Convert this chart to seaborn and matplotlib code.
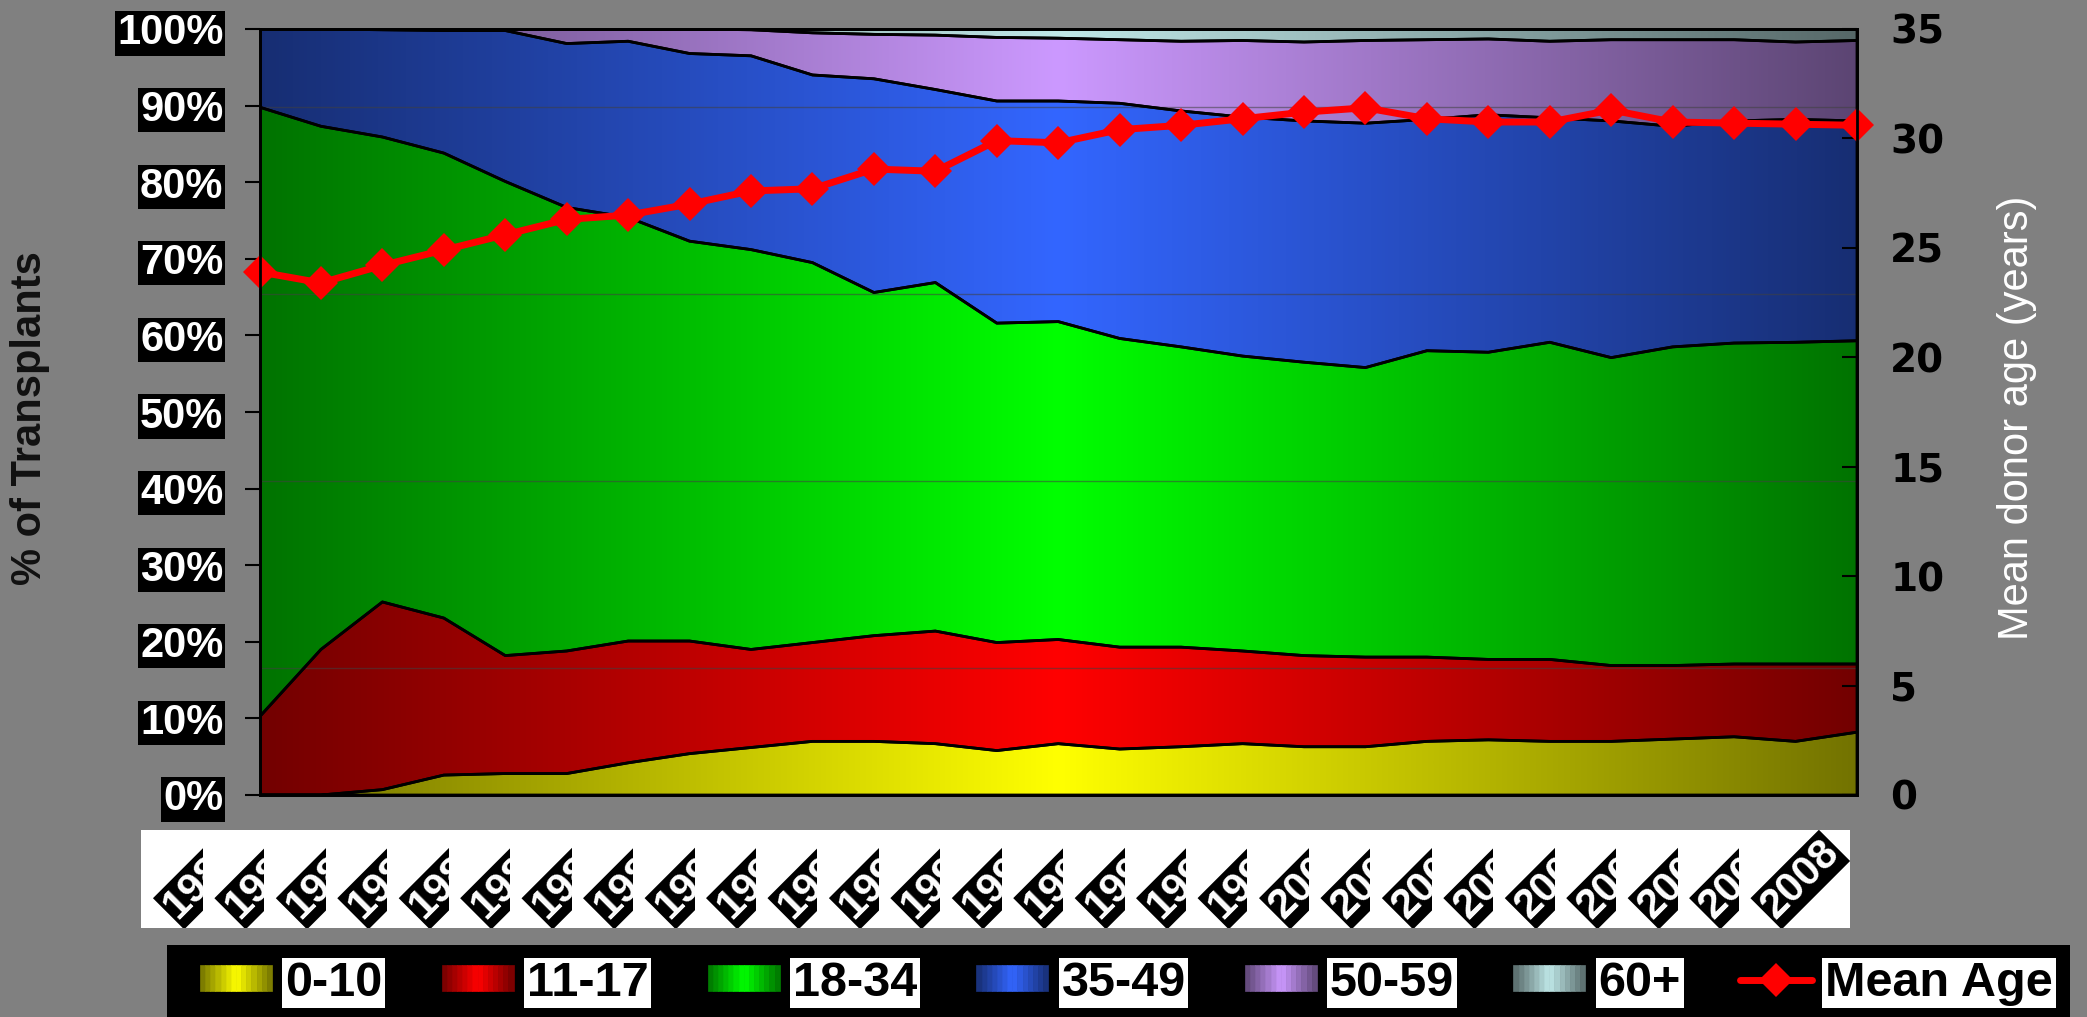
import numpy as np
import pandas as pd
import seaborn as sns
import matplotlib
matplotlib.use("Agg")
import matplotlib.pyplot as plt
import matplotlib.colors as mcolors
from matplotlib.patches import Rectangle, Patch
from matplotlib.lines import Line2D
from matplotlib.legend_handler import HandlerBase
from matplotlib.transforms import Bbox, TransformedBbox, blended_transform_factory

# Data (percent of transplants per donor age group)
YEARS = list(range(1982, 2009))
AGE_0_10 = [0.0, 0.0, 0.7, 2.6, 2.8, 2.8, 4.2, 5.4, 6.2, 7.0, 7.0, 6.7, 5.8, 6.7,
            6.0, 6.3, 6.7, 6.3, 6.3, 7.0, 7.2, 7.0, 7.0, 7.3, 7.6, 7.0, 8.2]
AGE_11_17 = [10.2, 19.0, 24.5, 20.5, 15.4, 16.0, 15.9, 14.7, 12.8, 12.9, 13.8, 14.7, 14.1, 13.6,
             13.3, 13.0, 12.1, 11.9, 11.7, 11.0, 10.5, 10.7, 9.9, 9.6, 9.5, 10.1, 8.9]
AGE_18_34 = [79.6, 68.3, 60.7, 60.7, 61.9, 57.9, 55.3, 52.2, 52.2, 49.6, 44.8, 45.5, 41.7, 41.5,
             40.3, 39.2, 38.5, 38.3, 37.8, 40.0, 40.1, 41.4, 40.2, 41.6, 41.9, 42.0, 42.2]
AGE_35_49 = [10.2, 12.7, 14.0, 16.0, 19.7, 21.4, 23.0, 24.5, 25.3, 24.5, 27.9, 25.2, 29.0, 28.8,
             30.7, 30.8, 31.2, 31.5, 31.9, 30.2, 31.0, 29.3, 30.9, 28.8, 29.0, 29.1, 28.7]
AGE_50_59 = [0.0, 0.0, 0.1, 0.2, 0.2, 1.9, 1.6, 3.2, 3.4, 5.5, 5.8, 7.1, 8.3, 8.2,
             8.3, 9.1, 10.0, 10.3, 10.8, 10.4, 9.9, 10.0, 10.6, 11.3, 10.6, 10.1, 10.5]
AGE_60_PLUS = [0.0, 0.0, 0.0, 0.0, 0.0, 0.0, 0.0, 0.0, 0.1, 0.5, 0.7, 0.8, 1.1, 1.2,
               1.4, 1.6, 1.5, 1.7, 1.5, 1.4, 1.3, 1.6, 1.4, 1.4, 1.4, 1.7, 1.5]
MEAN_AGE = [23.9, 23.4, 24.2, 24.9, 25.6, 26.3, 26.5, 27.0, 27.6, 27.7, 28.6, 28.5, 29.9, 29.8,
            30.4, 30.6, 30.9, 31.2, 31.4, 30.9, 30.75, 30.75, 31.3, 30.75, 30.7, 30.65, 30.6]

GROUPS = ["0-10", "11-17", "18-34", "35-49", "50-59", "60+"]
COLORS = ["#ffff00", "#ff0000", "#00ff00", "#3366ff", "#cc99ff", "#c0e8e8"]
PCT_TICKS = list(range(0, 101, 10))
AGE_TICKS = list(range(0, 36, 5))
GRID_PCT = [89.8, 65.4, 41.0, 16.6]

W, H = 2087, 1017


def shade(color, t):
    """Excel-like centre gradient: dark at both edges, bright in the middle."""
    bright = np.array(mcolors.to_rgb(color))
    f = 1 - abs(t - 0.5) * 2
    return np.clip(bright * (0.45 + 0.55 * f), 0, 1)


class GradientHandler(HandlerBase):
    def __init__(self, color, n=14):
        super().__init__()
        self.color = color
        self.n = n

    def create_artists(self, legend, orig_handle, xdescent, ydescent,
                       width, height, fontsize, trans):
        arts = []
        for k in range(self.n):
            c = shade(self.color, (k + 0.5) / self.n)
            arts.append(Rectangle((-xdescent + width * k / self.n, -ydescent),
                                  width / self.n, height, facecolor=c,
                                  edgecolor=c, linewidth=0.5, transform=trans))
        return arts


sns.set_style("white")
plt.rcParams["font.family"] = ["Liberation Sans", "DejaVu Sans"]

shares = pd.DataFrame({
    "0-10": AGE_0_10, "11-17": AGE_11_17, "18-34": AGE_18_34,
    "35-49": AGE_35_49, "50-59": AGE_50_59, "60+": AGE_60_PLUS,
}, index=YEARS)
cum = shares.cumsum(axis=1)

fig = plt.figure(figsize=(W / 100, H / 100), dpi=100, facecolor="#808080")
ax = fig.add_axes([259.5 / W, 222 / H, 1597.5 / W, 766 / H])
ax.set_facecolor("#808080")

# Stacked areas with horizontal gradients
t = np.linspace(0, 1, 256)
lower = np.zeros(len(YEARS))
for name, color in zip(GROUPS, COLORS):
    upper = cum[name].to_numpy()
    poly = ax.fill_between(YEARS, lower, upper, facecolor="none",
                           edgecolor="black", linewidth=2, zorder=3)
    grad = np.array([shade(color, v) for v in t])[None, :, :]
    im = ax.imshow(grad, extent=[YEARS[0], YEARS[-1], 0, 100], aspect="auto",
                   interpolation="bilinear", zorder=1)
    im.set_clip_path(poly.get_paths()[0], transform=ax.transData)
    lower = upper

for g in GRID_PCT:
    ax.axhline(g, color="#404040", linewidth=1, alpha=0.55, zorder=2)

ax.set_xlim(YEARS[0], YEARS[-1])
ax.set_ylim(0, 100)
ax.set_xticks(YEARS)
ax.tick_params(axis="x", direction="out", length=10, width=1.5, color="black",
               labelbottom=False)
ax.set_yticks(PCT_TICKS, [f"{v}%" for v in PCT_TICKS])
ax.tick_params(axis="y", direction="out", length=11, width=1.5, color="black",
               pad=15, labelsize=30, labelcolor="white")
for lab in ax.get_yticklabels():
    lab.set_fontweight("bold")
    lab.set_bbox(dict(facecolor="black", edgecolor="none", pad=1.5))
for s in ax.spines.values():
    s.set_color("black")
    s.set_linewidth(2)
ax.set_ylabel("% of Transplants", color="#111111", fontsize=30,
              fontweight="bold", va="center")
ax.yaxis.set_label_coords(-0.1437, 0.492)

# Mean donor age on the secondary axis
ax2 = ax.twinx()
sns.lineplot(x=YEARS, y=MEAN_AGE, ax=ax2, color="#ff0000", linewidth=5,
             marker="D", markersize=17, markeredgewidth=0, legend=False)
for line in ax2.lines:
    line.set_clip_on(False)
ax2.set_ylim(0, 35)
ax2.set_yticks(AGE_TICKS)
ax2.tick_params(axis="y", direction="in", length=11, width=1.5, color="black",
                pad=24, labelsize=28, labelcolor="black")
for lab in ax2.get_yticklabels():
    lab.set_fontweight("bold")
    lab.set_fontfamily("DejaVu Sans")
for s in ax2.spines.values():
    s.set_color("black")
    s.set_linewidth(2)
ax2.set_ylabel("Mean donor age (years)", color="white", fontsize=30,
               rotation=90, va="center")
ax2.yaxis.set_label_coords(1.1002, 0.492)

# Year labels: white strip, black rotated boxes, each clipped to its slot
fig.add_artist(Rectangle((141 / W, 89 / H), 1709 / W, 98 / H,
                         transform=fig.transFigure, facecolor="white",
                         edgecolor="none", zorder=1))
blend = blended_transform_factory(ax.transData, fig.transFigure)
yb, yt = 89 / H, 187 / H
for i, yr in enumerate(YEARS):
    txt = fig.text(yr - 0.16, 156 / H, str(yr), transform=blend, rotation=45,
                   rotation_mode="anchor", ha="right", va="bottom",
                   color="white", fontsize=30, fontweight="bold",
                   bbox=dict(facecolor="black", edgecolor="none", pad=1.5),
                   zorder=2)
    x1 = yr - 0.92 if i < len(YEARS) - 1 else yr + 0.5
    txt.set_clip_box(TransformedBbox(Bbox([[yr - 1.92, yb], [x1, yt]]), blend))
    txt.set_clip_on(True)

# Legend on a black band
fig.add_artist(Rectangle((167 / W, 0), 1903 / W, 72 / H,
                         transform=fig.transFigure, facecolor="black",
                         edgecolor="none", zorder=1))
handles = [Patch(label=g) for g in GROUPS]
handler_map = {h: GradientHandler(c) for h, c in zip(handles, COLORS)}
handles.append(Line2D([], [], color="#ff0000", linewidth=5, marker="D",
                      markersize=17, markeredgewidth=0, label="Mean Age"))
leg = fig.legend(handles=handles, handler_map=handler_map, loc="center left",
                 bbox_to_anchor=(200 / W, 34 / H), ncol=7, frameon=False,
                 prop={"weight": "bold", "size": 35}, handlelength=1.48,
                 handleheight=0.45, handletextpad=0.27, columnspacing=1.22,
                 borderpad=0, borderaxespad=0)
for txt in leg.get_texts():
    txt.set_color("black")
    txt.set_bbox(dict(facecolor="white", edgecolor="none", pad=2))

fig.savefig("out.png", dpi=100, facecolor=fig.get_facecolor())
